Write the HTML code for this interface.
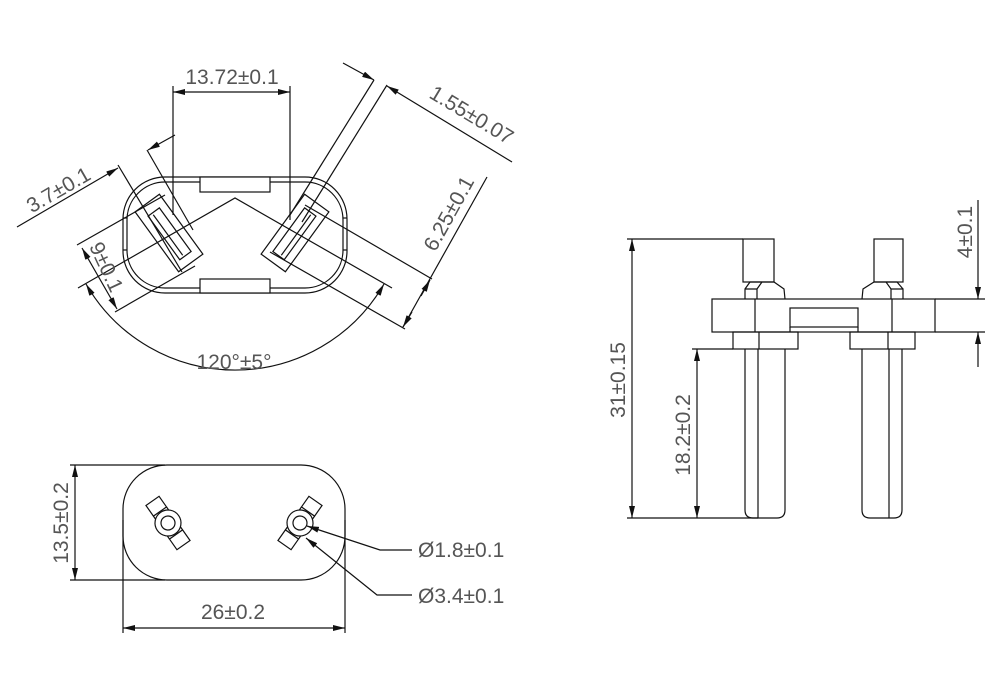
<!DOCTYPE html>
<html><head><meta charset="utf-8"><style>
html,body{margin:0;padding:0;background:#fff;}
svg{display:block;}
text{font-family:"Liberation Sans",sans-serif;font-size:21px;fill:#555;}
</style></head><body>
<svg width="1000" height="700" viewBox="0 0 1000 700" xmlns="http://www.w3.org/2000/svg">
<defs>
<marker id="a" viewBox="0 0 12 6" refX="12" refY="3" markerWidth="12" markerHeight="6" orient="auto-start-reverse" markerUnits="userSpaceOnUse"><path d="M0,0 L12,3 L0,6 z" fill="#111"/></marker>
</defs>
<g stroke="#111" stroke-width="1.2" fill="none">
<rect x="123" y="177" width="224" height="116" rx="42"/>
<rect x="127" y="182" width="216" height="106" rx="38"/>
<rect x="200" y="177" width="70" height="15" fill="#fff"/>
<rect x="200" y="279" width="70" height="14" fill="#fff"/>
<line x1="123" y1="218" x2="127" y2="218"/><line x1="123" y1="250" x2="127" y2="250"/>
<line x1="343" y1="218" x2="347" y2="218"/><line x1="343" y1="250" x2="347" y2="250"/>
<g transform="translate(169,233) rotate(-36)"><rect x="-15" y="-37" width="30" height="74" fill="#fff"/><rect x="-7" y="-26" width="14" height="54"/><line x1="-2" y1="-24" x2="-2" y2="26"/></g>
<g transform="translate(295,233) rotate(36)"><rect x="-15" y="-37" width="30" height="74" fill="#fff"/><rect x="-7" y="-26" width="14" height="54"/><line x1="2" y1="-24" x2="2" y2="26"/></g>
<polyline points="78,288 235,198 392,288"/>
<line x1="173" y1="86" x2="173" y2="215"/><line x1="290" y1="86" x2="290" y2="220"/>
<line x1="173" y1="92" x2="290" y2="92" marker-start="url(#a)" marker-end="url(#a)"/>
<line x1="374" y1="80" x2="290" y2="215"/><line x1="387" y1="85" x2="302" y2="222"/>
<line x1="343" y1="63" x2="374" y2="80" marker-end="url(#a)"/>
<line x1="512" y1="162" x2="387" y2="86" marker-end="url(#a)"/>
<line x1="305" y1="205" x2="432" y2="279"/>
<line x1="270" y1="252" x2="405" y2="329"/>
<line x1="403" y1="327" x2="487" y2="177"/>
<line x1="412" y1="312" x2="403" y2="327" marker-end="url(#a)"/>
<line x1="421" y1="296" x2="430" y2="280" marker-end="url(#a)"/>
<line x1="118" y1="165" x2="182" y2="272"/><line x1="147" y1="150" x2="193" y2="230"/>
<line x1="17" y1="227" x2="118" y2="168" marker-end="url(#a)"/>
<line x1="175" y1="135" x2="148" y2="150" marker-end="url(#a)"/>
<line x1="77" y1="245" x2="165" y2="195"/>
<line x1="115" y1="312" x2="195" y2="266"/>
<line x1="82" y1="248" x2="117" y2="309" marker-start="url(#a)" marker-end="url(#a)"/>
<path d="M86,284 A172,172 0 0 0 384,284" marker-start="url(#a)" marker-end="url(#a)"/>
<rect x="123" y="465" width="222" height="115" rx="44"/>
<line x1="70" y1="465" x2="165" y2="465"/><line x1="70" y1="580" x2="165" y2="580"/>
<line x1="75" y1="465" x2="75" y2="580" marker-start="url(#a)" marker-end="url(#a)"/>
<line x1="123" y1="520" x2="123" y2="633"/><line x1="345" y1="520" x2="345" y2="633"/>
<line x1="123" y1="628" x2="345" y2="628" marker-start="url(#a)" marker-end="url(#a)"/>
<g transform="translate(168,523) rotate(-35)"><rect x="-8" y="-27" width="16" height="13"/><rect x="-8" y="14" width="16" height="13"/><line x1="-8" y1="-14" x2="-8" y2="14"/><line x1="8" y1="-14" x2="8" y2="14"/><circle r="13" fill="#fff"/><circle r="7"/></g>
<g transform="translate(300,523) rotate(35)"><rect x="-8" y="-27" width="16" height="13"/><rect x="-8" y="14" width="16" height="13"/><line x1="-8" y1="-14" x2="-8" y2="14"/><line x1="8" y1="-14" x2="8" y2="14"/><circle r="13" fill="#fff"/><circle r="7"/></g>
<polyline points="412,550 380,550 307,526" marker-end="url(#a)"/>
<polyline points="412,595 377,595 306,538" marker-end="url(#a)"/>
<line x1="627" y1="239" x2="743" y2="239"/>
<rect x="743" y="239" width="31" height="43"/>
<rect x="874" y="239" width="29" height="43"/>
<path d="M745,299 L745,289 L750,282 L762,282 L757,289 L757,299 M757,289 L745,289 M762,282 L774,282 L784,289 L785,299"/>
<path d="M862,299 L863,289 L874,282 L886,282 L891,289 L891,299 M891,289 L903,289 L903,299 M886,282 L897,282 L903,289"/>
<rect x="712" y="299" width="223" height="33"/>
<line x1="755" y1="299" x2="755" y2="332"/><line x1="892" y1="299" x2="892" y2="332"/>
<rect x="790" y="308" width="68" height="19"/><line x1="790" y1="332" x2="790" y2="327"/><line x1="858" y1="332" x2="858" y2="327"/>
<line x1="935" y1="299" x2="985" y2="299"/><line x1="935" y1="332" x2="985" y2="332"/>
<rect x="733" y="332" width="65" height="17"/><line x1="759" y1="332" x2="759" y2="349"/>
<rect x="850" y="332" width="65" height="17"/><line x1="888" y1="332" x2="888" y2="349"/>
<path d="M745,349 L745,510 Q745,518 753,518 L777,518 Q785,518 785,510 L785,349 M758,349 L758,518"/>
<path d="M862,349 L862,510 Q862,518 870,518 L894,518 Q902,518 902,510 L902,349 M889,349 L889,518"/>
<line x1="627" y1="518" x2="758" y2="518"/>
<line x1="632" y1="239" x2="632" y2="518" marker-start="url(#a)" marker-end="url(#a)"/>
<line x1="692" y1="349" x2="733" y2="349"/>
<line x1="697" y1="349" x2="697" y2="518" marker-start="url(#a)" marker-end="url(#a)"/>
<line x1="978" y1="200" x2="978" y2="299" marker-end="url(#a)"/>
<line x1="978" y1="367" x2="978" y2="332" marker-end="url(#a)"/>
</g>
<g>
<text x="232" y="84" text-anchor="middle">13.72±0.1</text>
<text transform="translate(468,121) rotate(31)" text-anchor="middle">1.55±0.07</text>
<text transform="translate(455,217) rotate(-61)" text-anchor="middle">6.25±0.1</text>
<text transform="translate(62,196) rotate(-30)" text-anchor="middle">3.7±0.1</text>
<text transform="translate(100,270) rotate(65)" text-anchor="middle">9±0.1</text>
<text x="234" y="369" text-anchor="middle">120°±5°</text>
<text transform="translate(68,523) rotate(-90)" text-anchor="middle">13.5±0.2</text>
<text x="233" y="619" text-anchor="middle">26±0.2</text>
<text x="418" y="557">Ø1.8±0.1</text>
<text x="418" y="603">Ø3.4±0.1</text>
<text transform="translate(625,380) rotate(-90)" text-anchor="middle">31±0.15</text>
<text transform="translate(690,435) rotate(-90)" text-anchor="middle">18.2±0.2</text>
<text transform="translate(972,232) rotate(-90)" text-anchor="middle">4±0.1</text>
</g>
</svg>
</body></html>
